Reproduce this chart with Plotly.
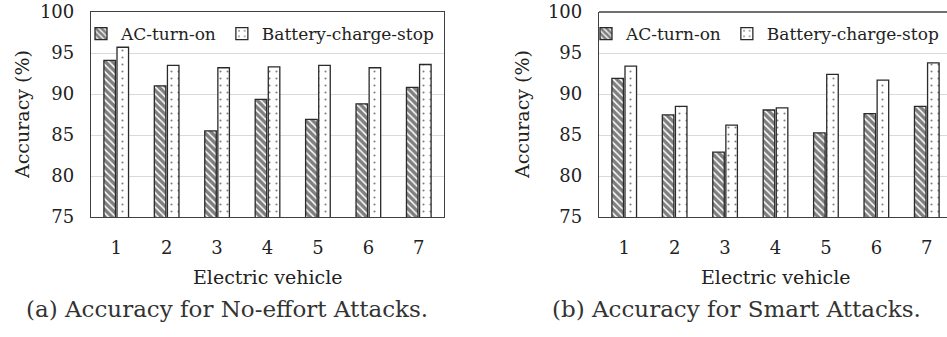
import plotly.graph_objects as go

vehicles = [1, 2, 3, 4, 5, 6, 7]
series_names = ["AC-turn-on", "Battery-charge-stop"]
noeffort_ac = [94.1, 91.0, 85.5, 89.35, 86.9, 88.8, 90.8]
noeffort_batt = [95.7, 93.5, 93.2, 93.3, 93.5, 93.2, 93.6]
smart_ac = [91.9, 87.45, 82.9, 88.05, 85.25, 87.6, 88.5]
smart_batt = [93.4, 88.5, 86.2, 88.3, 92.4, 91.7, 93.8]
y_ticks = [75, 80, 85, 90, 95, 100]
captions = ["(a) Accuracy for No-effort Attacks.", "(b) Accuracy for Smart Attacks."]

W, H = 947, 337
FONT = "DejaVu Serif"
CAP_FONT = "DejaVu Serif"
EDGE = "#2a2a2a"
TXT = "#222222"

fig = go.Figure()

pat_ac = dict(shape="\\", fgcolor="black", bgcolor="white", size=5, solidity=0.7)
pat_bt = dict(shape=".", fgcolor="black", bgcolor="white", size=7, solidity=0.07)

panels = [
    ("x", "y", "legend", noeffort_ac, noeffort_batt),
    ("x2", "y2", "legend2", smart_ac, smart_batt),
]
for xa, ya, lg, ac, bt in panels:
    fig.add_trace(go.Bar(x=vehicles, y=ac, name=series_names[0], xaxis=xa, yaxis=ya,
                         legend=lg, marker=dict(color="white", pattern=pat_ac,
                                                line=dict(color=EDGE, width=1.3))))
    fig.add_trace(go.Bar(x=vehicles, y=bt, name=series_names[1], xaxis=xa, yaxis=ya,
                         legend=lg, marker=dict(color="white", pattern=pat_bt,
                                                line=dict(color=EDGE, width=1.3))))

ytop, ybot = 12, 217
ydom = [1 - ybot / H, 1 - ytop / H]
x1 = [91 / W, 444 / W]
x2 = [599 / W, 1.0]
full_w = 353
r2_end = 0.5 + 7 * (947 - 599) / full_w

axis_common = dict(showgrid=False, zeroline=False, showline=True, linecolor="#404040",
                   linewidth=1.3, ticks="", automargin=False,
                   tickfont=dict(family=FONT, size=18, color=TXT))
yaxis_common = dict(range=[75, 100], tickvals=y_ticks, showgrid=True, gridcolor="#d9d9d9",
                    gridwidth=1.3, zeroline=False, showline=True, linecolor="#404040",
                    linewidth=1.3, ticks="", ticklabelstandoff=12, automargin=False,
                    tickfont=dict(family=FONT, size=18, color=TXT))

leg_common = dict(orientation="h", yanchor="middle", xanchor="left",
                  font=dict(family=FONT, size=17, color=TXT), bgcolor="rgba(0,0,0,0)",
                  itemwidth=30)

fig.update_layout(
    width=W, height=H, autosize=False,
    margin=dict(l=0, r=0, t=0, b=0, pad=0, autoexpand=False),
    paper_bgcolor="white", plot_bgcolor="white",
    barmode="group", bargap=0.48, bargroupgap=0.12,
    xaxis=dict(domain=x1, range=[0.5, 7.5], tickvals=vehicles, mirror=True,
               ticklabelstandoff=14, anchor="y", **axis_common),
    yaxis=dict(domain=ydom, anchor="x", mirror=True, **yaxis_common),
    xaxis2=dict(domain=x2, range=[0.5, r2_end], tickvals=vehicles, mirror=False,
                ticklabelstandoff=14, anchor="y2", **axis_common),
    yaxis2=dict(domain=ydom, anchor="x2", mirror=False, **yaxis_common),
    legend=dict(x=(91 - 10) / W, y=1 - 34 / H, **leg_common),
    legend2=dict(x=(599 - 13) / W, y=1 - 34 / H, **leg_common),
    showlegend=True,
)

# top border for the right (clipped) panel
fig.add_shape(type="line", xref="x2 domain", yref="y2 domain", x0=0, x1=1, y0=1, y1=1,
              line=dict(color="#404040", width=1.3))

annos = [
    dict(text="Accuracy (%)", x=22 / W, y=1 - 115 / H, textangle=-90),
    dict(text="Electric vehicle", x=(91 + 444) / 2 / W, y=1 - 277 / H),
    dict(text="Accuracy (%)", x=(477 + 45) / W, y=1 - 115 / H, textangle=-90),
    dict(text="Electric vehicle", x=(599 + 952) / 2 / W, y=1 - 277 / H),
]
for a in annos:
    fig.add_annotation(xref="paper", yref="paper", showarrow=False, xanchor="center",
                       yanchor="middle", font=dict(family=FONT, size=19, color=TXT), **a)

fig.add_annotation(text=captions[0], xref="paper", yref="paper", x=227 / W, y=1 - 309 / H,
                   showarrow=False, xanchor="center", yanchor="middle",
                   font=dict(family=CAP_FONT, size=23, color="#333"))
fig.add_annotation(text=captions[1], xref="paper", yref="paper", x=736 / W, y=1 - 309 / H,
                   showarrow=False, xanchor="center", yanchor="middle",
                   font=dict(family=CAP_FONT, size=23, color="#333"))

fig.write_html("out.html", config={"displayModeBar": False},
               post_script="document.body.style.margin='0';")
